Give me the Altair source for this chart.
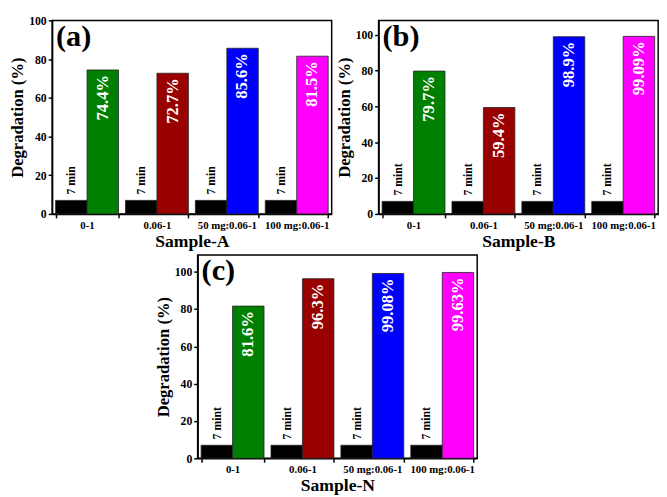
import altair as alt
import pandas as pd

categories = ["0-1", "0.06-1", "50 mg:0.06-1", "100 mg:0.06-1"]
bar_colors = ["#008000", "#990000", "#0000FF", "#FF00FF"]
base_value = 7
vals_a = [74.4, 72.7, 85.6, 81.5]
vals_b = [79.7, 59.4, 98.9, 99.09]
vals_c = [81.6, 96.3, 99.08, 99.63]
labels_a = ["74.4%", "72.7%", "85.6%", "81.5%"]
labels_b = ["79.7%", "59.4%", "98.9%", "99.09%"]
labels_c = ["81.6%", "96.3%", "99.08%", "99.63%"]

FONT = "Liberation Serif"
W = 286


def panel(vals, labs, tag, letter, xtitle, ymax, H):
    rows = []
    for cat, v, lab, col in zip(categories, vals, labs, bar_colors):
        rows.append({"cat": cat, "s": "a", "v": base_value, "col": "#000000", "lab": tag})
        rows.append({"cat": cat, "s": "b", "v": v, "col": col, "lab": lab})
    df = pd.DataFrame(rows)
    base = alt.Chart(df)
    x = alt.X("cat:N", sort=categories,
              scale=alt.Scale(paddingInner=0.1, paddingOuter=0.05),
              axis=alt.Axis(title=xtitle, labelAngle=0, labelFontSize=11,
                            titleFontSize=18, labelPadding=2, titlePadding=2,
                            tickBand="extent"))
    xo = alt.XOffset("s:N", scale=alt.Scale(domain=["a", "b"], paddingInner=0, paddingOuter=0))
    y = alt.Y("v:Q", scale=alt.Scale(domain=[0, ymax], nice=False),
              axis=alt.Axis(title="Degradation (%)", values=[0, 20, 40, 60, 80, 100],
                            labelFontSize=12, titleFontSize=17, labelPadding=2,
                            titlePadding=2, grid=False))
    bars = base.mark_bar(stroke="#222222", strokeWidth=0.8).encode(
        x=x, xOffset=xo, y=y, color=alt.Color("col:N", scale=None))
    pct = base.transform_filter(alt.datum.s == "b").mark_text(
        angle=270, align="right", baseline="middle", dx=-5, color="white",
        fontSize=17, font=FONT, fontWeight="bold").encode(
        x=x, xOffset=xo, y=y, text="lab:N")
    mins = base.transform_filter(alt.datum.s == "a").mark_text(
        angle=270, align="left", baseline="middle", dx=6, color="black",
        fontSize=12, font=FONT, fontWeight="bold").encode(
        x=x, xOffset=xo, y=y, text="lab:N")
    let = alt.Chart(pd.DataFrame({"t": [letter]})).mark_text(
        align="left", baseline="top", fontSize=31, font=FONT, fontWeight="bold",
        color="black").encode(x=alt.value(4), y=alt.value(2), text="t:N")
    return alt.layer(bars, pct, mins, let).properties(width=W, height=H)


pa = panel(vals_a, labels_a, "7 min", "(a)", "Sample-A", 100, 198)
pb = panel(vals_b, labels_b, "7 mint", "(b)", "Sample-B", 108, 198)
pc = panel(vals_c, labels_c, "7 mint", "(c)", "Sample-N", 109, 208)

spacer = alt.Chart(pd.DataFrame({"t": [""]})).mark_text().encode(
    text="t:N").properties(width=36, height=208,
                           view=alt.ViewBackground(strokeOpacity=0))

top = alt.hconcat(pa, pb, spacing=2)
bottom = alt.hconcat(pc, spacer, spacing=0)
chart = alt.vconcat(top, bottom, spacing=3, center=True).properties(padding=0).configure_view(
    stroke="black", strokeWidth=1.5
).configure_axis(
    labelFont=FONT, titleFont=FONT, labelFontWeight="bold", titleFontWeight="bold",
    labelColor="black", titleColor="black", domainColor="black", tickColor="black",
    domainWidth=1.5, tickWidth=1.5, tickSize=4
)

chart.save("out.html", embed_options={"renderer": "svg", "actions": False})
